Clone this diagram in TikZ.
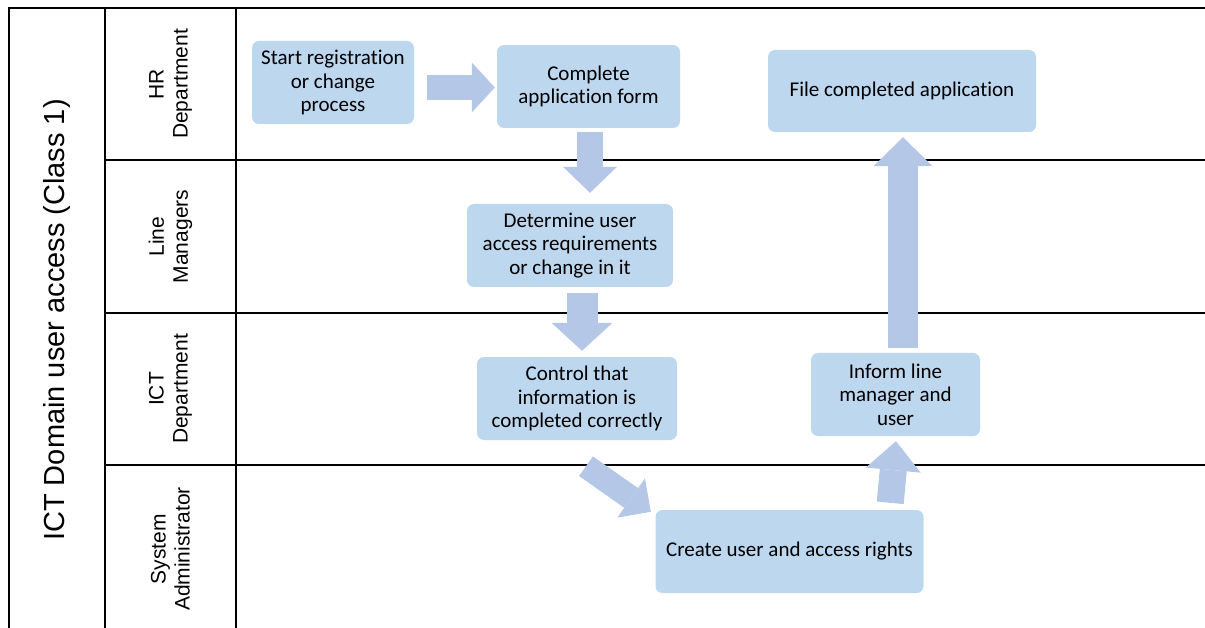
\documentclass[tikz,border=0pt]{standalone}
\usepackage{fontspec}
\setmainfont{Carlito}[Ligatures=NoCommon]
\newfontfamily\arialfont{Liberation Sans}
\usetikzlibrary{arrows.meta}
\definecolor{boxblue}{HTML}{BDD7EE}
\definecolor{flowblue}{HTML}{B4C7E7}

\begin{document}
\begin{tikzpicture}[x=1pt, y=-1pt,
    task/.style={fill=boxblue, rounded corners=7pt, align=center, inner sep=0pt,
        font=\fontsize{21}{23.5}\selectfont},
    lane/.style={rotate=90, align=center, font=\arialfont\fontsize{21}{24}\selectfont},
    flow/.style n args={3}{draw=flowblue, line width=#1,
        -{Triangle[width=#2, length=#3, line width=0pt]}},
    grid/.style={line width=2pt}]
        \useasboundingbox (0,0) rectangle (1205,628);

        \draw[grid] (9,628) -- (9,8) -- (1205,8);
        \draw[grid] (105,8) -- (105,628);
        \draw[grid] (236,8) -- (236,628);
        \foreach \y in {160,313,465}
            \draw[grid] (105,\y) -- (1205,\y);

        \node[rotate=90, font=\arialfont\fontsize{29}{29}\selectfont] (title) at (57, 320) {ICT Domain user access (Class 1)};
        \node[lane] (hr) at (170.5, 84) {HR\\Department};
        \node[lane] (lm) at (170.5, 236.5) {Line\\Managers};
        \node[lane] (ict) at (170.5, 389) {ICT\\Department};
        \node[lane] (sa) at (170.5, 549) {System\\Administrator};

        \node[task, minimum width=162pt, minimum height=83pt] (start) at (333, 82.5) {Start registration\\or change\\process};
        \node[task, minimum width=183pt, minimum height=83pt] (form) at (588.5, 86.5) {Complete\\application form};
        \node[task, minimum width=268pt, minimum height=82pt] (file) at (902, 91) {File completed application};
        \node[task, minimum width=206pt, minimum height=83pt] (req) at (570, 245.5) {Determine user\\access requirements\\or change in it};
        \node[task, minimum width=200pt, minimum height=83pt] (check) at (577, 398.5) {Control that\\information is\\completed correctly};
        \node[task, minimum width=169pt, minimum height=83pt] (inform) at (895.5, 394.5) {Inform line\\manager and\\user};
        \node[task, minimum width=268pt, minimum height=83pt] (create) at (789.5, 551.5) {Create user and access rights};

        \draw[flow={25pt}{50pt}{23pt}] ([shift={(13pt,-5pt)}]start.east) -- ([shift={(-2pt,-1pt)}]form.west);
        \draw[flow={26pt}{54pt}{26pt}] ([shift={(1.5pt,-4pt)}]form.south) -- ([shift={(20pt,11pt)}]req.north);
        \draw[flow={31pt}{61pt}{28pt}] ([shift={(12pt,-6pt)}]req.south) -- ([shift={(5pt,6pt)}]check.north);
        \draw[flow={24pt}{48pt}{24pt}] ([shift={(9pt,-26pt)}]check.south) -- ([shift={(-4.5pt,-2pt)}]create.north west);
        \draw[flow={27pt}{55pt}{29pt}] ([shift={(-33.5pt,7pt)}]create.north east) -- ([shift={(0.5pt,-5pt)}]inform.south);
        \draw[flow={30pt}{59pt}{29pt}] ([shift={(7.5pt,5pt)}]inform.north) -- ([shift={(1pt,-5pt)}]file.south);

    \end{tikzpicture}
\end{document}
